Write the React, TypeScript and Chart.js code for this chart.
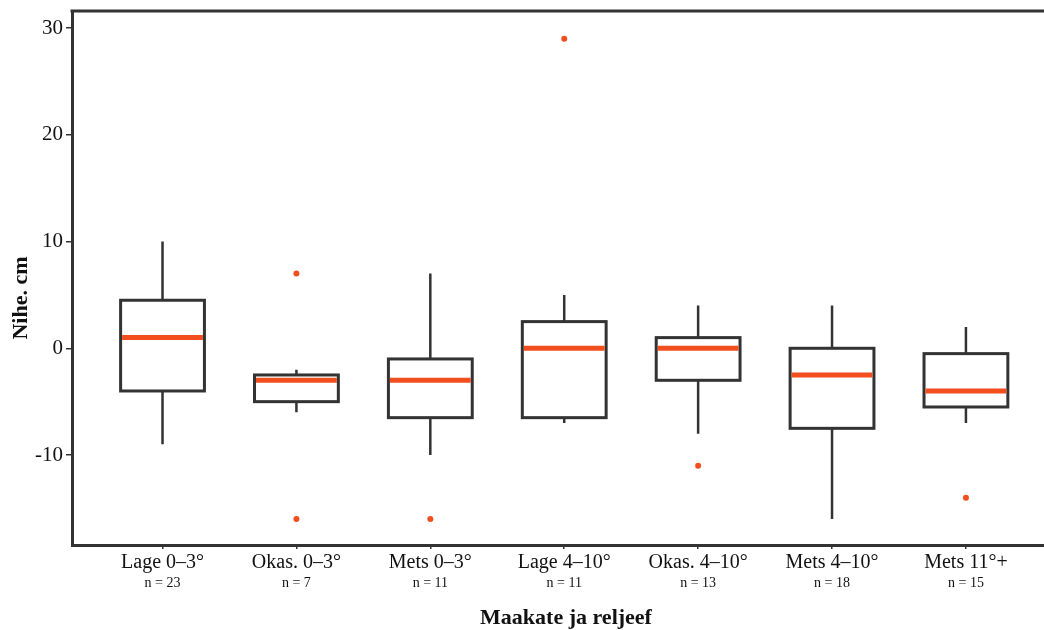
import React, { useEffect, useRef } from "react";
import { Chart, registerables } from "chart.js";

Chart.register(...registerables);

const categories = ["Lage 0–3°", "Okas. 0–3°", "Mets 0–3°", "Lage 4–10°", "Okas. 4–10°", "Mets 4–10°", "Mets 11°+"];
const nLabels = ["n = 23", "n = 7", "n = 11", "n = 11", "n = 13", "n = 18", "n = 15"];
const whiskerLow = [-9, -6, -10, -7, -8, -16, -7];
const q1 = [-4, -5, -6.5, -6.5, -3, -7.5, -5.5];
const medians = [1, -3, -3, 0, 0, -2.5, -4];
const q3 = [4.5, -2.5, -1, 2.5, 1, 0, -0.5];
const whiskerHigh = [10, -2, 7, 5, 4, 4, 2];
const outlierCat = [1, 1, 2, 3, 4, 6];
const outlierVal = [7, -16, -16, 29, -11, -14];
const yTicks = [-10, 0, 10, 20, 30];

const xTitle = "Maakate ja reljeef";
const yTitle = "Nihe. cm";

const DARK = "#333333";
const ORANGE = "#F24E1E";
const SERIF = "'Liberation Serif', 'Times New Roman', serif";

const boxPlugin = {
  id: "boxes",
  beforeDatasetsDraw(chart: any) {
    const { ctx, scales } = chart;
    const xs = scales.x;
    const ys = scales.y;
    const half = Math.abs(xs.getPixelForValue(0.313) - xs.getPixelForValue(0));
    ctx.save();
    for (let i = 0; i < categories.length; i++) {
      const cx = xs.getPixelForValue(i);
      const yLo = ys.getPixelForValue(whiskerLow[i]);
      const yQ1 = ys.getPixelForValue(q1[i]);
      const yMed = ys.getPixelForValue(medians[i]);
      const yQ3 = ys.getPixelForValue(q3[i]);
      const yHi = ys.getPixelForValue(whiskerHigh[i]);
      ctx.strokeStyle = DARK;
      ctx.lineWidth = 2.5;
      ctx.beginPath();
      ctx.moveTo(cx, yHi);
      ctx.lineTo(cx, yQ3);
      ctx.moveTo(cx, yQ1);
      ctx.lineTo(cx, yLo);
      ctx.stroke();
      ctx.fillStyle = "#ffffff";
      ctx.fillRect(cx - half, yQ3, half * 2, yQ1 - yQ3);
      ctx.lineWidth = 3;
      ctx.lineJoin = "miter";
      ctx.strokeRect(cx - half, yQ3, half * 2, yQ1 - yQ3);
      ctx.strokeStyle = ORANGE;
      ctx.lineWidth = 5;
      ctx.beginPath();
      ctx.moveTo(cx - half + 1.5, yMed);
      ctx.lineTo(cx + half - 1.5, yMed);
      ctx.stroke();
    }
    ctx.restore();
  },
  afterDraw(chart: any) {
    const { ctx, chartArea, scales } = chart;
    const xs = scales.x;
    ctx.save();
    ctx.strokeStyle = DARK;
    ctx.lineWidth = 3;
    ctx.beginPath();
    ctx.moveTo(chartArea.left - 1.5, chartArea.top);
    ctx.lineTo(chartArea.right, chartArea.top);
    ctx.stroke();
    ctx.fillStyle = "#111111";
    ctx.textAlign = "center";
    ctx.textBaseline = "middle";
    for (let i = 0; i < categories.length; i++) {
      const cx = xs.getPixelForValue(i);
      ctx.font = `20px ${SERIF}`;
      ctx.fillText(categories[i], cx, chartArea.bottom + 18);
      ctx.font = `14px ${SERIF}`;
      ctx.fillText(nLabels[i], cx, chartArea.bottom + 38);
    }
    ctx.font = `bold 22px ${SERIF}`;
    ctx.fillText(xTitle, 566, chartArea.bottom + 73);
    ctx.translate(21, 298);
    ctx.rotate(-Math.PI / 2);
    ctx.fillText(yTitle, 0, 0);
    ctx.restore();
  },
};

export default function App() {
  const ref = useRef<HTMLCanvasElement | null>(null);
  useEffect(() => {
    if (!ref.current) return;
    const chart = new Chart(ref.current, {
      type: "scatter",
      data: {
        datasets: [
          {
            label: "Outliers",
            data: outlierCat.map((c, i) => ({ x: c, y: outlierVal[i] })),
            backgroundColor: ORANGE,
            borderColor: ORANGE,
            pointRadius: 3,
            borderWidth: 0,
          },
        ],
      },
      options: {
        animation: false,
        responsive: false,
        layout: { autoPadding: false, padding: { left: 0, right: 0, top: 11, bottom: 0 } },
        plugins: { legend: { display: false }, tooltip: { enabled: false } },
        scales: {
          x: {
            type: "linear",
            min: -0.676,
            max: 6.583,
            afterBuildTicks: (s: any) => {
              s.ticks = categories.map((_, i) => ({ value: i }));
            },
            afterFit: (s: any) => {
              s.height = 85;
              s.paddingLeft = 0;
              s.paddingRight = 0;
            },
            ticks: { display: false },
            grid: { drawOnChartArea: false, drawTicks: true, tickLength: 4, color: DARK, lineWidth: 1.5 },
            border: { display: true, color: DARK, width: 3 },
          },
          y: {
            type: "linear",
            min: -18.43,
            max: 31.6,
            afterBuildTicks: (s: any) => {
              s.ticks = yTicks.map((v) => ({ value: v }));
            },
            afterFit: (s: any) => {
              s.width = 72;
              s.paddingTop = 0;
              s.paddingBottom = 0;
            },
            ticks: {
              font: { family: SERIF, size: 21 },
              color: "#111111",
              padding: 3,
            },
            grid: { drawOnChartArea: false, drawTicks: true, tickLength: 6, color: DARK, lineWidth: 1.5 },
            border: { display: true, color: DARK, width: 3 },
          },
        },
      },
      plugins: [boxPlugin],
    });
    return () => chart.destroy();
  }, []);
  return (
    <div style={{ position: "absolute", left: 0, top: 0, width: 1044, height: 630, background: "#fff" }}>
      <canvas ref={ref} width={1044} height={630} />
    </div>
  );
}
